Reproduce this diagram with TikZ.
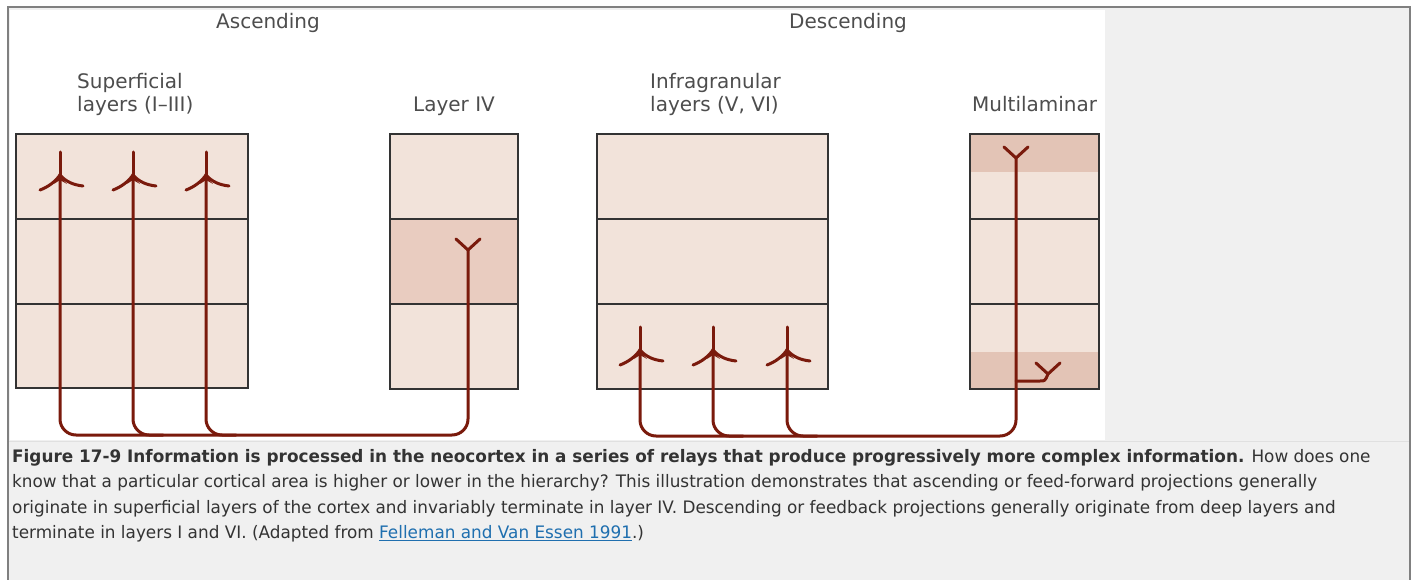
\documentclass[tikz,border=0pt]{standalone}
\usepackage{fontspec}
\setmainfont{DejaVu Sans}
\newfontfamily\capfont[FakeStretch=0.98]{DejaVu Sans}
\definecolor{bggray}{HTML}{F0F0F0}
\definecolor{framegray}{HTML}{808080}
\definecolor{boxfill}{HTML}{F2E3DA}
\definecolor{bandfill}{HTML}{E9CCC0}
\definecolor{bandfilltwo}{HTML}{E3C4B6}
\definecolor{boxline}{HTML}{333333}
\definecolor{neurcol}{HTML}{7A1A0C}
\definecolor{labcol}{HTML}{4D4D4D}
\definecolor{capcol}{HTML}{333333}
\definecolor{linkcol}{HTML}{1F6FAF}
\begin{document}
\begin{tikzpicture}[x=1pt,y=-1pt,
  neuron/.style={draw=neurcol, line width=3pt, line cap=round, line join=round},
  cbox/.style={draw=boxline, line width=2pt},
  lab/.style={inner sep=0pt, text=labcol, font=\fontsize{20}{24}\selectfont},
  captext/.style={inner sep=0pt, anchor=base west, text=capcol, font=\capfont\fontsize{17.2}{20}\selectfont},
  upfork/.pic={
    \draw[neuron] (0,0) -- (0,-23);
    \draw[neuron] (0,0) .. controls (-5,7) and (-12,12) .. (-20,15);
    \draw[neuron] (0,0) .. controls (6,7) and (14,10) .. (23,11);
    \fill[neurcol] (-6,9) .. controls (-2,4) .. (0,-7) .. controls (2,4) .. (7,9) -- (0,5) -- cycle;
  },
  downfork/.pic={
    \draw[neuron] (-12,-11) -- (0,0) -- (12,-11);
  }
]
\useasboundingbox (0,0) rectangle (1414,580);
% page background and frame
\fill[white] (0,0) rectangle (1414,580);
\fill[bggray] (8,7) rectangle (1410,590);
\draw[framegray, line width=1.3pt] (8,590) -- (8,7) -- (1410,7) -- (1410,590);
\fill[white] (10,10) rectangle (1105,440);
\draw[white!88!black, line width=1pt] (9,441) -- (1409,441);

% boxes
\fill[boxfill] (16,134) rectangle (248,388);
\fill[boxfill] (390,134) rectangle (518,389);
\fill[bandfill] (390,219) rectangle (518,304);
\fill[boxfill] (597,134) rectangle (828,389);
\fill[boxfill] (970,134) rectangle (1099,389);
\fill[bandfilltwo] (970,134) rectangle (1099,172);
\fill[bandfilltwo] (970,352) rectangle (1099,389);
\foreach \xa/\xb in {16/248, 390/518, 597/828, 970/1099}{
  \draw[cbox] (\xa,219) -- (\xb,219);
  \draw[cbox] (\xa,304) -- (\xb,304);
}
\draw[cbox] (16,134) rectangle (248,388);
\draw[cbox] (390,134) rectangle (518,389);
\draw[cbox] (597,134) rectangle (828,389);
\draw[cbox] (970,134) rectangle (1099,389);

% neuron coordinates
\coordinate (a1) at (60,175);
\coordinate (a2) at (133,175);
\coordinate (a3) at (206,175);
\coordinate (t4) at (468,250);
\coordinate (d1) at (640,350);
\coordinate (d2) at (713,350);
\coordinate (d3) at (787,350);
\coordinate (m1) at (1016,158);
\coordinate (m2) at (1016,381);
\coordinate (m3) at (1048,374);
\coordinate (baseA) at (0,435);
\coordinate (baseD) at (0,436);

% ascending projection
\draw[neuron, rounded corners=16pt] (a1) -- (a1 |- baseA) -- (t4 |- baseA) -- (t4);
\draw[neuron, rounded corners=16pt] (a2) -- (a2 |- baseA) -- ++(30,0);
\draw[neuron, rounded corners=16pt] (a3) -- (a3 |- baseA) -- ++(30,0);
\pic at (a1) {upfork};
\pic at (a2) {upfork};
\pic at (a3) {upfork};
\pic at (t4) {downfork};

% descending projection
\draw[neuron, rounded corners=16pt] (d1) -- (d1 |- baseD) -- (m1 |- baseD) -- (m1);
\draw[neuron, rounded corners=16pt] (d2) -- (d2 |- baseD) -- ++(30,0);
\draw[neuron, rounded corners=16pt] (d3) -- (d3 |- baseD) -- ++(30,0);
\draw[neuron] (m2) -- (1040,381) .. controls (1045,381) .. (m3);
\pic at (d1) {upfork};
\pic at (d2) {upfork};
\pic at (d3) {upfork};
\pic at (m1) {downfork};
\pic at (m3) {downfork};

% labels
\node[lab, anchor=base] (asc) at (268,29) {Ascending};
\node[lab, anchor=base] (desc) at (848,29) {Descending};
\node[lab, anchor=base west] (sup1) at (77,89) {Superficial};
\node[lab, anchor=base west] (sup2) at (77,112) {layers (I–III)};
\node[lab, anchor=base west] (l4) at (413,112) {Layer IV};
\node[lab, anchor=base west] (inf1) at (650,89) {Infragranular};
\node[lab, anchor=base west] (inf2) at (650,112) {layers (V, VI)};
\node[lab, anchor=base west] (mul) at (972,112) {Multilaminar};

% caption
\node[captext] (c1) at (12,462) {\textbf{Figure 17-9 Information is processed in the neocortex in a series of relays that produce progressively more complex information.} How does one};
\node[captext] (c2) at (12,487.5) {know that a particular cortical area is higher or lower in the hierarchy? This illustration demonstrates that ascending or feed-forward projections generally};
\node[captext] (c3) at (12,513) {originate in superficial layers of the cortex and invariably terminate in layer IV. Descending or feedback projections generally originate from deep layers and};
\node[captext] (c4) at (12,538.5) {terminate in layers I and VI. (Adapted from \textcolor{linkcol}{\underline{Felleman and Van Essen 1991}}.)};
\end{tikzpicture}
\end{document}
